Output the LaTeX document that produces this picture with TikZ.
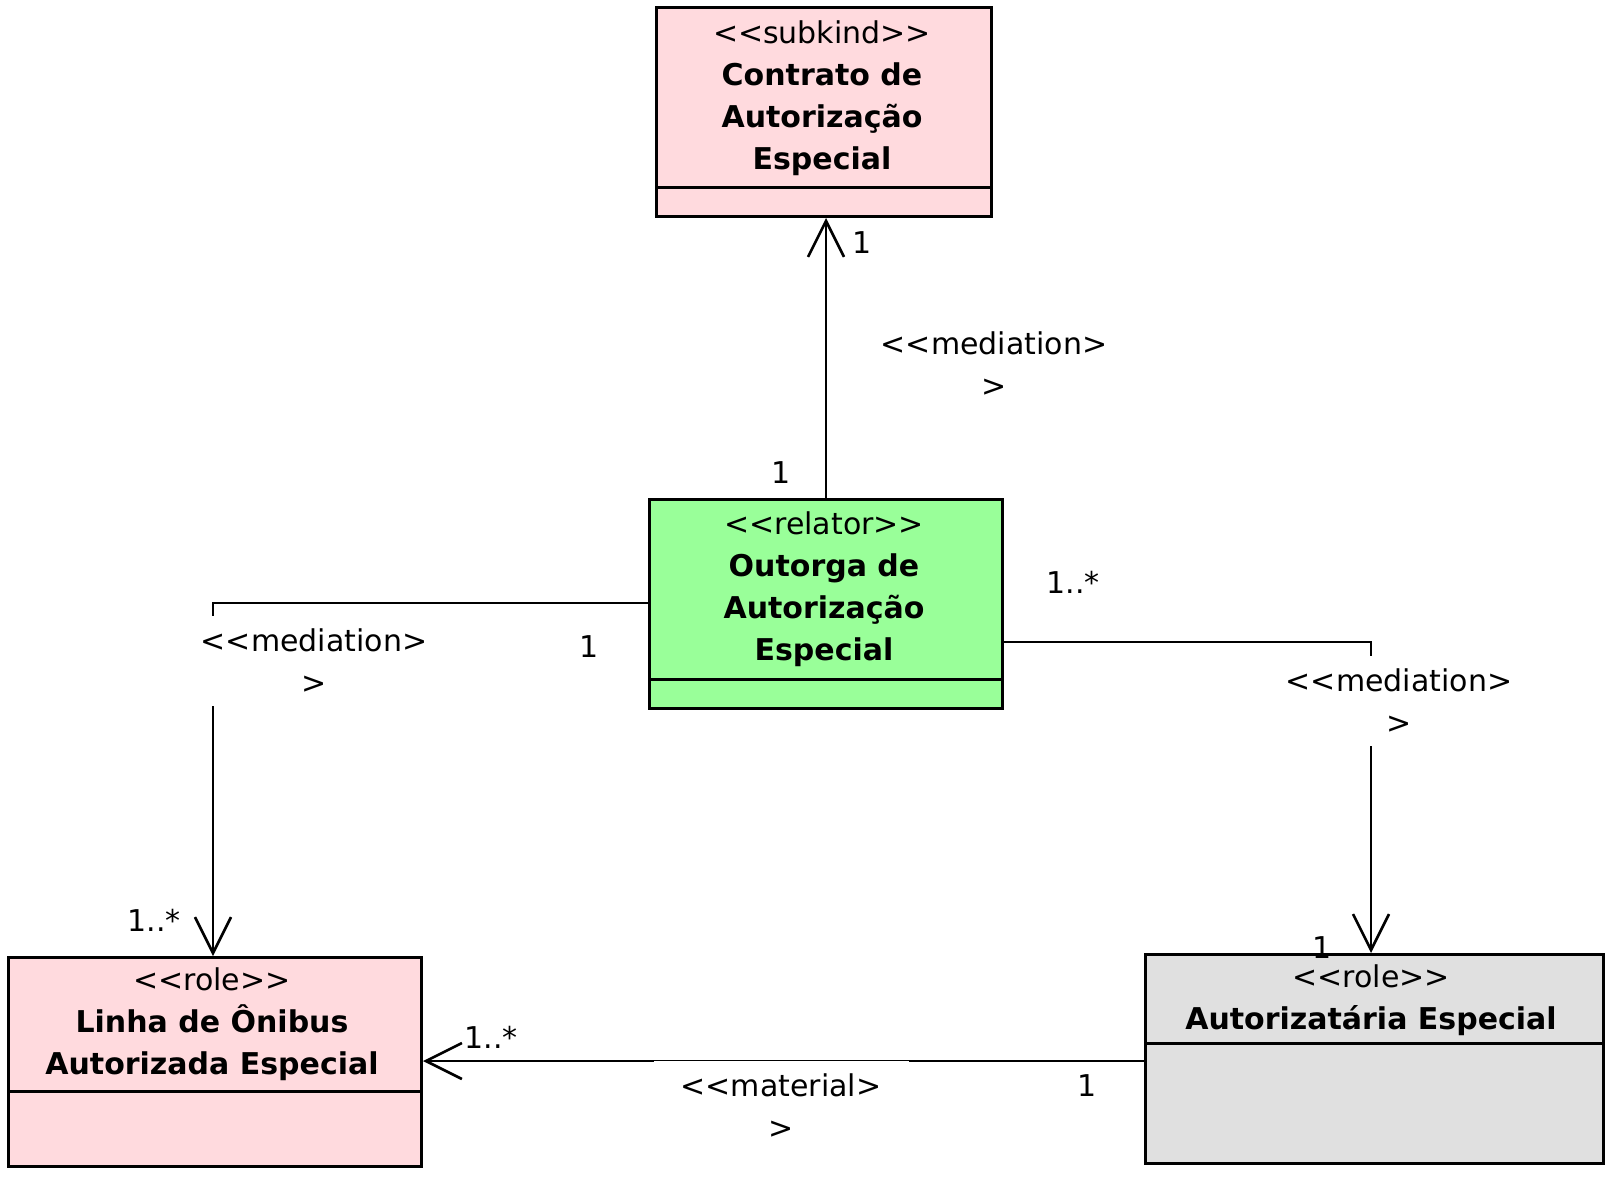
\documentclass[tikz,border=0pt]{standalone}
\usepackage{fontspec}
\setmainfont{DejaVu Sans}
\usetikzlibrary{arrows.meta}
\definecolor{pinkc}{RGB}{255,218,222}
\definecolor{greenc}{RGB}{153,255,153}
\definecolor{grayc}{RGB}{224,224,224}
\newcommand{\lgl}{<\kern0pt<}
\newcommand{\rgr}{>\kern0pt>}
\begin{document}
\begin{tikzpicture}[x=0.5pt,y=-0.5pt,
  classbox/.style={draw, line width=1.5pt, rectangle, inner sep=0pt, anchor=north west},
  ctext/.style={align=center, font=\fontsize{15}{21}\selectfont, inner sep=0pt},
  conn/.style={line width=1.3pt},
  arr/.style={-{Straight Barb[length=18pt,width=18pt]}},
  lbl/.style={font=\fontsize{15}{21}\selectfont, inner sep=0pt},
  stlabel/.style={fill=white, font=\fontsize{15}{21}\selectfont, align=center, minimum width=127.5pt, minimum height=45pt, inner sep=0pt}
]
\path[use as bounding box, fill=white] (0,0) rectangle (1614,1179);

% class boxes
\node[classbox, fill=pinkc, minimum width=167.5pt, minimum height=104.5pt] (contract) at (655,6) {};
\draw[line width=1.5pt] ([yshift=15.5pt]contract.south west) -- ([yshift=15.5pt]contract.south east);
\node[ctext] (contractT) at (822,98) {\lgl subkind\rgr\\\textbf{Contrato de}\\\textbf{Autorização}\\\textbf{Especial}};

\node[classbox, fill=greenc, minimum width=176.5pt, minimum height=104.5pt] (relator) at (648,498) {};
\draw[line width=1.5pt] ([yshift=15.5pt]relator.south west) -- ([yshift=15.5pt]relator.south east);
\node[ctext] (relatorT) at (824,589) {\lgl relator\rgr\\\textbf{Outorga de}\\\textbf{Autorização}\\\textbf{Especial}};

\node[classbox, fill=pinkc, minimum width=206.5pt, minimum height=104.5pt] (linha) at (7,956) {};
\draw[line width=1.5pt] ([yshift=38.5pt]linha.south west) -- ([yshift=38.5pt]linha.south east);
\node[ctext] (linhaT) at (212,1024) {\lgl role\rgr\\\textbf{Linha de Ônibus}\\\textbf{Autorizada Especial}};

\node[classbox, fill=grayc, minimum width=229pt, minimum height=104.5pt] (autor) at (1144,953) {};
\draw[line width=1.5pt] ([yshift=61pt]autor.south west) -- ([yshift=61pt]autor.south east);
\node[ctext] (autorT) at (1371,1000) {\lgl role\rgr\\\textbf{Autorizatária Especial}};

% connectors
\draw[conn, arr] (relator.north) -- (relator.north |- contract.south);
\coordinate (lc) at (213,603);
\draw[conn, arr] (relator.west |- lc) -- (lc) -- (lc |- linha.north);
\coordinate (rc) at (1371,642);
\draw[conn, arr] (relator.east |- rc) -- (rc) -- (rc |- autor.north);
\coordinate (bc) at (0,1061);
\draw[conn, arr] (autor.west |- bc) -- (linha.east |- bc);

% stereotype labels
\node[stlabel] (m1) at (994,364) {\lgl mediation>\\>};
\node[stlabel] (m2) at (314,661) {\lgl mediation>\\>};
\node[stlabel] (m3) at (1399,701) {\lgl mediation>\\>};
\node[stlabel] (m4) at (781,1106) {\lgl material>\\>};

% multiplicities
\node[lbl] (n1) at (862,243) {1};
\node[lbl] (n2) at (781,473) {1};
\node[lbl] (n3) at (589,647) {1};
\node[lbl] (n4) at (154,920) {1..*};
\node[lbl] (n5) at (1073,582) {1..*};
\node[lbl] (n6) at (1322,948) {1};
\node[lbl] (n7) at (491,1037) {1..*};
\node[lbl] (n8) at (1087,1086) {1};
\end{tikzpicture}
\end{document}
